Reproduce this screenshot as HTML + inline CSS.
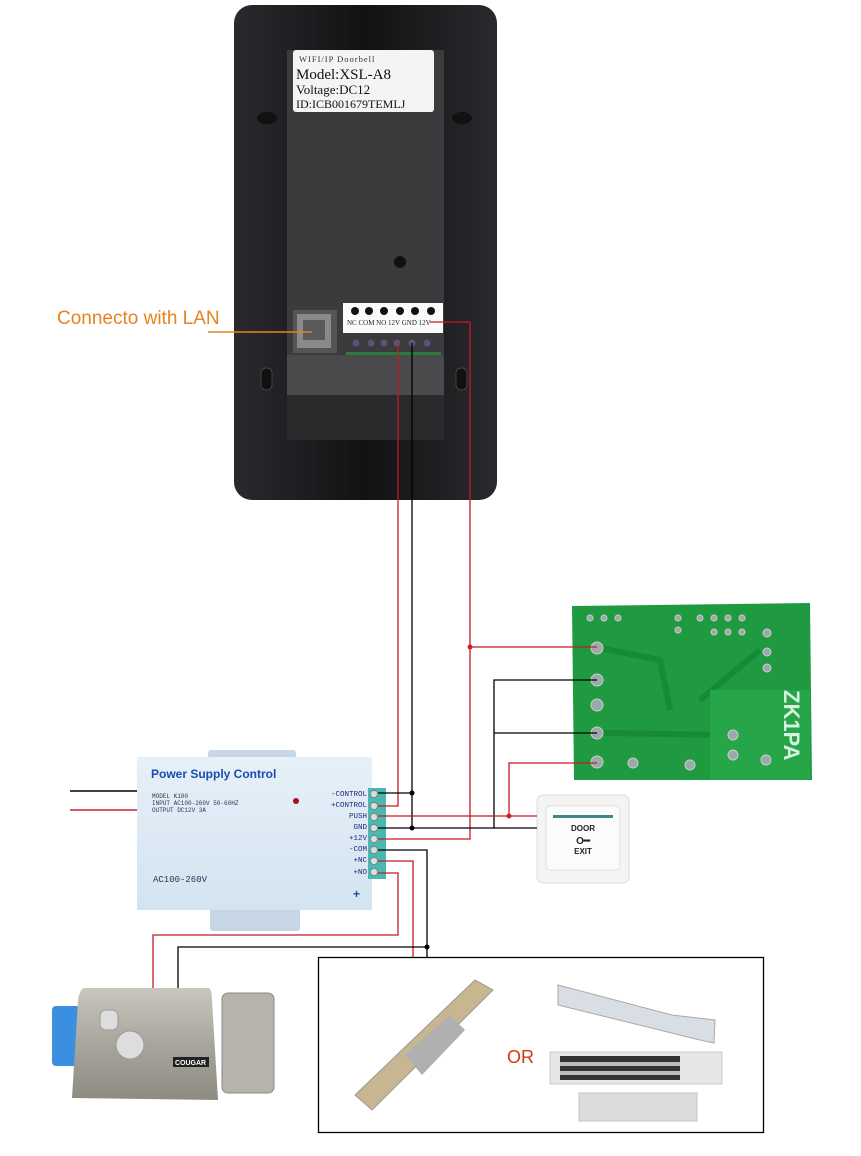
<!DOCTYPE html>
<html><head><meta charset="utf-8"><style>
html,body{margin:0;padding:0;background:#fff;}
svg{display:block;}
</style></head><body>
<svg width="861" height="1156" viewBox="0 0 861 1156" xmlns="http://www.w3.org/2000/svg" style="font-family:'Liberation Sans',sans-serif">
<defs>
<linearGradient id="dev" x1="0" x2="1"><stop offset="0" stop-color="#2a2a2e"/><stop offset="0.5" stop-color="#121214"/><stop offset="1" stop-color="#2a2a2e"/></linearGradient>
<linearGradient id="ps" x1="0" y1="0" x2="0" y2="1"><stop offset="0" stop-color="#e6f0f8"/><stop offset="1" stop-color="#d3e3f0"/></linearGradient>
<linearGradient id="metal" x1="0" y1="0" x2="0" y2="1"><stop offset="0" stop-color="#c9c7bd"/><stop offset="0.5" stop-color="#a8a69c"/><stop offset="1" stop-color="#8d8b82"/></linearGradient>
</defs>
<!-- Device -->
<rect x="234" y="5" width="263" height="495" rx="18" fill="url(#dev)"/>
<rect x="287" y="50" width="157" height="390" fill="#3b3b3e"/>
<rect x="287" y="355" width="157" height="40" fill="#4a4a4d"/>
<rect x="287" y="395" width="157" height="45" fill="#2a2a2c"/>
<rect x="293" y="50" width="141" height="62" rx="3" fill="#f4f4f4"/>
<text x="299" y="62" style="font-family:'Liberation Serif',serif;font-size:8.5px;letter-spacing:1px" fill="#333">WIFI/IP Doorbell</text>
<text x="296" y="79" style="font-family:'Liberation Serif',serif;font-size:15px" fill="#111">Model:XSL-A8</text>
<text x="296" y="94" style="font-family:'Liberation Serif',serif;font-size:13px" fill="#111">Voltage:DC12</text>
<text x="296" y="108" style="font-family:'Liberation Serif',serif;font-size:12px" fill="#111">ID:ICB001679TEMLJ</text>
<ellipse cx="267" cy="118" rx="10" ry="6" fill="#111"/><ellipse cx="462" cy="118" rx="10" ry="6" fill="#111"/>
<rect x="261" y="368" width="11" height="22" rx="5" fill="#111" stroke="#444"/><rect x="456" y="368" width="11" height="22" rx="5" fill="#111" stroke="#444"/>
<circle cx="400" cy="262" r="6" fill="#111"/>
<rect x="293" y="310" width="44" height="43" fill="#555"/>
<rect x="297" y="314" width="34" height="34" fill="#8a8a8a"/>
<rect x="303" y="320" width="22" height="20" fill="#5a5a5a"/>
<rect x="343" y="303" width="100" height="30" fill="#fafafa"/>
<g fill="#111"><circle cx="355" cy="311" r="4"/><circle cx="369" cy="311" r="4"/><circle cx="384" cy="311" r="4"/><circle cx="400" cy="311" r="4"/><circle cx="415" cy="311" r="4"/><circle cx="431" cy="311" r="4"/></g>
<text x="347" y="325" style="font-family:'Liberation Serif',serif;font-size:7px" fill="#222">NC  COM  NO 12V GND 12V</text>
<rect x="346" y="352" width="95" height="3" fill="#2a7a3a"/>
<g fill="#557"><circle cx="356" cy="343" r="3.5"/><circle cx="371" cy="343" r="3.5"/><circle cx="384" cy="343" r="3.5"/><circle cx="397" cy="343" r="3.5"/><circle cx="412" cy="343" r="3.5"/><circle cx="427" cy="343" r="3.5"/></g>
<!-- LAN label -->
<text x="57" y="324" style="font-size:19px" fill="#e8821e">Connecto with LAN</text>
<line x1="208" y1="332" x2="312" y2="332" stroke="#e8821e" stroke-width="1.5"/>
<!-- ZK board -->
<polygon points="572,606 810,603 812,780 574,780" fill="#1f9a40"/>
<g fill="none" stroke="#178a35" stroke-width="6"><polyline points="600,648 660,660 670,710"/><polyline points="600,733 730,735"/><polyline points="700,700 760,650"/></g>
<rect x="710" y="690" width="100" height="90" fill="#26a648"/>
<text x="0" y="0" style="font-size:22px;font-weight:bold" fill="#d8f0e0" transform="translate(784,690) rotate(90)">ZK1PA</text>
<g fill="#9aa" stroke="#ccc"><circle cx="597" cy="648" r="6"/><circle cx="597" cy="680" r="6"/><circle cx="597" cy="705" r="6"/><circle cx="597" cy="733" r="6"/><circle cx="597" cy="762" r="6"/><circle cx="633" cy="763" r="5"/><circle cx="690" cy="765" r="5"/><circle cx="733" cy="735" r="5"/><circle cx="733" cy="755" r="5"/><circle cx="766" cy="760" r="5"/><circle cx="767" cy="633" r="4"/><circle cx="767" cy="652" r="4"/><circle cx="767" cy="668" r="4"/><circle cx="590" cy="618" r="3"/><circle cx="604" cy="618" r="3"/><circle cx="618" cy="618" r="3"/><circle cx="678" cy="618" r="3"/><circle cx="678" cy="630" r="3"/><circle cx="700" cy="618" r="3"/><circle cx="714" cy="618" r="3"/><circle cx="728" cy="618" r="3"/><circle cx="742" cy="618" r="3"/><circle cx="714" cy="632" r="3"/><circle cx="728" cy="632" r="3"/><circle cx="742" cy="632" r="3"/></g>
<!-- Exit button -->
<rect x="537" y="795" width="92" height="88" rx="6" fill="#f4f4f2" stroke="#ddd"/>
<rect x="546" y="806" width="74" height="64" rx="4" fill="#fbfbfb" stroke="#e0e0e0"/>
<rect x="553" y="815" width="60" height="3" fill="#3a8a8a"/>
<text x="583" y="831" style="font-size:8px;font-weight:bold" text-anchor="middle" fill="#222">DOOR</text>
<text x="583" y="844" style="font-size:10px;font-weight:bold" text-anchor="middle" fill="#222">O━</text>
<text x="583" y="854" style="font-size:8px;font-weight:bold" text-anchor="middle" fill="#222">EXIT</text>
<!-- Power supply -->
<rect x="208" y="750" width="88" height="12" rx="3" fill="#c6d6e4"/>
<rect x="210" y="905" width="90" height="26" rx="3" fill="#c6d6e4"/>
<rect x="137" y="757" width="235" height="153" fill="url(#ps)"/>
<text x="151" y="778" style="font-size:12px;font-weight:bold" fill="#1a4cb0">Power Supply Control</text>
<text x="152" y="798" style="font-family:'Liberation Mono',monospace;font-size:6px" fill="#335">MODEL K100</text>
<text x="152" y="805" style="font-family:'Liberation Mono',monospace;font-size:6px" fill="#335">INPUT AC100-260V 50-60HZ</text>
<text x="152" y="812" style="font-family:'Liberation Mono',monospace;font-size:6px" fill="#335">OUTPUT DC12V 3A</text>
<text x="153" y="882" style="font-family:'Liberation Mono',monospace;font-size:9px" fill="#335">AC100-260V</text>
<circle cx="296" cy="801" r="3" fill="#a01020"/>
<text x="353" y="898" style="font-size:12px;font-weight:bold" fill="#1a4cb0">+</text>
<rect x="368" y="788" width="18" height="91" fill="#4bb8b0"/>
<g style="font-family:'Liberation Mono',monospace;font-size:7.5px" fill="#1a2a7a" text-anchor="end">
<text x="367" y="796">-CONTROL</text><text x="367" y="807">+CONTROL</text><text x="367" y="818">PUSH</text><text x="367" y="829">GND</text><text x="367" y="840">+12V</text><text x="367" y="851">-COM</text><text x="367" y="862">+NC</text><text x="367" y="874">+NO</text></g>
<g fill="#ddd" stroke="#777" stroke-width="0.7"><circle cx="374" cy="794" r="3.5"/><circle cx="374" cy="806" r="3.5"/><circle cx="374" cy="817" r="3.5"/><circle cx="374" cy="828" r="3.5"/><circle cx="374" cy="839" r="3.5"/><circle cx="374" cy="850" r="3.5"/><circle cx="374" cy="861" r="3.5"/><circle cx="374" cy="872" r="3.5"/></g>
<!-- input wires -->
<line x1="70" y1="791" x2="137" y2="791" stroke="#000" stroke-width="1.5"/>
<line x1="70" y1="810" x2="137" y2="810" stroke="#d0202a" stroke-width="1.5"/>
<!-- wires -->
<g fill="none" stroke-width="1.3">
<polyline stroke="#c41a24" points="398,343 398,806 378,806"/>
<polyline stroke="#000" points="412,343 412,828 378,828"/>
<line stroke="#000" x1="378" y1="793" x2="412" y2="793"/>
<polyline stroke="#c41a24" points="430,322 443,322 470,322 470,839 378,839"/>
<polyline stroke="#c41a24" points="470,647 597,647"/>
<polyline stroke="#000" points="597,680 494,680 494,828 412,828"/>
<line stroke="#000" x1="494" y1="828" x2="537" y2="828"/>
<line stroke="#000" x1="494" y1="733" x2="597" y2="733"/>
<line stroke="#c41a24" x1="378" y1="816" x2="537" y2="816"/>
<polyline stroke="#c41a24" points="509,816 509,763 597,763"/>
<polyline stroke="#000" points="378,850 427,850 427,957"/>
<polyline stroke="#c41a24" points="378,861 413,861 413,957"/>
<polyline stroke="#c41a24" points="378,873 398,873 398,935 153,935 153,990"/>
<polyline stroke="#000" points="427,947 178,947 178,990"/>
</g>
<g fill="#000"><circle cx="412" cy="793" r="2.5"/><circle cx="412" cy="828" r="2.5"/><circle cx="427" cy="947" r="2.5"/></g>
<g fill="#d0202a"><circle cx="470" cy="647" r="2.5"/><circle cx="509" cy="816" r="2.5"/></g>
<!-- Rim lock -->
<rect x="52" y="1006" width="30" height="60" rx="4" fill="#3a8fe0"/>
<path d="M85 988 L208 988 Q212 988 212 1000 L218 1100 L72 1098 L78 1000 Q80 988 85 988Z" fill="url(#metal)"/>
<rect x="222" y="993" width="52" height="100" rx="6" fill="#b5b3aa" stroke="#888"/>
<rect x="100" y="1010" width="18" height="20" rx="6" fill="#ddd" stroke="#999"/>
<circle cx="130" cy="1045" r="14" fill="#ddd" stroke="#999"/>
<rect x="173" y="1057" width="36" height="10" fill="#222"/>
<text x="175" y="1065" style="font-size:7px;font-weight:bold" fill="#fff">COUGAR</text>
<!-- Lock box -->
<rect x="318.5" y="957.5" width="445" height="175" fill="none" stroke="#000" stroke-width="1.3"/>
<polygon points="355,1095 475,980 493,990 372,1110" fill="#c8b690" stroke="#999"/>
<polygon points="405,1055 450,1015 465,1030 422,1075" fill="#b0b0b0"/>
<polygon points="558,985 672,1015 715,1020 714,1043 700,1040 558,1005" fill="#d9dde4" stroke="#aaa"/>
<text x="507" y="1063" style="font-size:18px" fill="#d03a10">OR</text>
<rect x="550" y="1052" width="172" height="32" fill="#e6e6e6" stroke="#ccc"/>
<rect x="560" y="1056" width="120" height="24" fill="#333"/>
<rect x="560" y="1062" width="120" height="4" fill="#bbb"/><rect x="560" y="1071" width="120" height="4" fill="#bbb"/>
<rect x="579" y="1093" width="118" height="28" fill="#dcdcdc" stroke="#c4c4c4"/>
</svg>
</body></html>
